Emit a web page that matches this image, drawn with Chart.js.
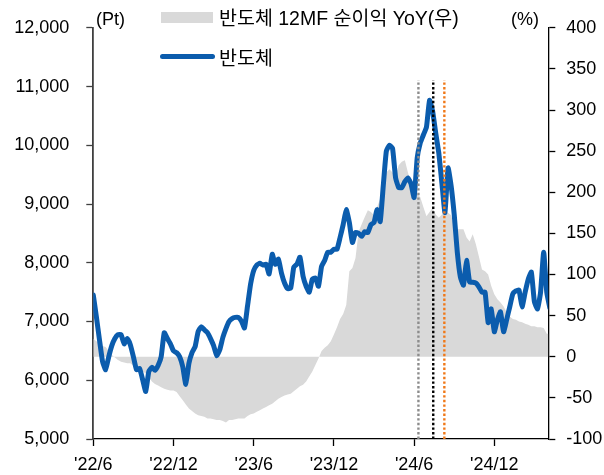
<!DOCTYPE html>
<html>
<head>
<meta charset="utf-8">
<script src="https://cdn.jsdelivr.net/npm/chart.js@4.4.1/dist/chart.umd.min.js"></script>
<style>
  body { margin: 0; background: #fff; }
  #wrap { position: relative; width: 604px; height: 475px; }
  #chart { position: absolute; left: 0; top: 0; }
  .lbl { position: absolute; font-family: "Liberation Sans", Arial, sans-serif; font-size: 18px; color: #000; line-height: 1; white-space: nowrap; }
  .leg { position: absolute; font-family: "Liberation Sans", "Noto Sans CJK KR", sans-serif; font-size: 19.5px; color: #000; line-height: 1; white-space: nowrap; }
  .leg .kr { font-family: "Noto Sans CJK KR", sans-serif; }
  .swatch { position: absolute; }
</style>
</head>
<body>
<div id="wrap">
  <canvas id="chart" width="604" height="475"></canvas>
  <div class="lbl" style="left:96px;top:10px;">(Pt)</div>
  <div class="lbl" style="left:511px;top:10px;">(%)</div>
  <div class="swatch" style="left:161px;top:12px;width:52px;height:11px;background:#d9d9d9;"></div>
  <div class="leg" id="leg1" style="left:219px;top:7px;"></div>
  <div class="swatch" style="left:160px;top:54px;width:55px;height:5px;border-radius:3px;background:#0b5cad;"></div>
  <div class="leg" id="leg2" style="left:219px;top:47px;"></div>
</div>
<script>
// 주간 데이터 ('22/6 첫 주 = 0)
const seriesNames = ["반도체 12MF 순이익 YoY(우)", "반도체"];
const tickWeeks = [0, 26, 52, 78, 104, 130];
const tickLabels = ["'22/6", "'22/12", "'23/6", "'23/12", "'24/6", "'24/12"];

// 반도체 지수 (Pt, 좌축)
const semiIndex = [
  7450, 7080, 6690, 6320, 6180, 6400, 6590, 6710, 6775, 6775,
  6620, 6710, 6605, 6400, 6180, 6200, 6010, 5810, 6150, 6220,
  6170, 6250, 6400, 6810, 6710, 6620, 6500, 6470, 6400, 6230,
  5930, 6290, 6470, 6570, 6830, 6910, 6860, 6810, 6710, 6590,
  6420, 6520, 6730, 6880, 7000, 7050, 7070, 7070, 7010, 6890,
  7265, 7640, 7870, 7960, 7990, 7960, 7975, 7810, 8145, 7975,
  8060, 7825, 7655, 7560, 7570, 7925, 7975, 8095, 7770, 7600,
  7500, 7720, 7740, 7600, 7940, 8040, 8180, 8180, 8230, 8230,
  8430, 8650, 8905, 8685, 8345, 8515, 8500, 8450, 8530, 8515,
  8650, 8685, 8905, 8700, 9310, 9900, 10000, 9950, 9445, 9280,
  9280, 9380, 9445, 9345, 9110, 9785, 10040, 10175, 10310, 10765,
  10580, 10210, 9870, 9360, 8855, 9615, 9310, 8820, 8180, 7755,
  7620, 8040, 7670, 7670, 7655, 7590, 7500, 7500, 6980, 7215,
  6825, 7030, 7165, 6825, 7030, 7250, 7470, 7520, 7535, 7250,
  7500, 7720, 7840, 7335, 7215, 7500, 8180, 7500, 7230
];

// 반도체 12MF 순이익 YoY (%, 우축)
const profitYoY = [
  22, 19, 16, 13, 12, 7, 2, -1, -4, -6,
  -7, -8, -8, -11, -13, -16, -18, -20, -25, -30,
  -33, -35, -37, -39, -40, -41, -41, -43, -48, -53,
  -58, -63, -66, -69, -71, -72, -73, -75, -75, -76,
  -77, -77, -78, -80, -77, -77, -76, -75, -75, -75,
  -72, -70, -69, -67, -65, -63, -61, -59, -57, -54,
  -51, -49, -47, -46, -45, -42, -39, -36, -34, -30,
  -24, -18, -10, -2, 7, 11, 14, 19, 27, 36,
  46, 52, 63, 104, 108, 120, 152, 161, 170, 178,
  176, 172, 182, 192, 206, 224, 228, 224, 220, 233,
  237, 239, 224, 210, 201, 198, 194, 182, 171, 176,
  181, 173, 169, 173, 176, 175, 172, 158, 155, 155,
  155, 145, 140, 149, 137, 122, 106, 104, 100, 86,
  76, 70, 66, 61, 54, 49, 46, 45, 43, 42,
  40, 39, 37, 37, 36, 36, 35, 28, 28
];

// 점선 표시 시점 (주 인덱스)
const markerWeeks = [105.4, 110.2, 113.8];
const markerColors = ["#8c8c8c", "#000000", "#f07818"];
const markerRange = [5000, 11110];

document.getElementById("leg1").innerHTML =
  '<span class="kr">반도체</span> 12MF <span class="kr">순이익</span> YoY(<span class="kr">우</span>)';
document.getElementById("leg2").innerHTML = '<span class="kr">' + seriesNames[1] + '</span>';

const toPoints = (arr) => arr.map((v, i) => ({ x: i, y: v }));

const markerSets = markerWeeks.map((w, k) => ({
  label: "marker" + k,
  data: markerRange.map((v) => ({ x: w, y: v })),
  yAxisID: "y",
  borderColor: markerColors[k],
  borderWidth: 2.4,
  borderDash: [2.4, 2.2],
  pointRadius: 0,
  fill: false,
  order: 0,
}));

const ctx = document.getElementById("chart").getContext("2d");
new Chart(ctx, {
  type: "line",
  data: {
    datasets: [
      ...markerSets,
      {
        label: seriesNames[1],
        data: toPoints(semiIndex),
        yAxisID: "y",
        borderColor: "#0b5cad",
        borderWidth: 5,
        borderJoinStyle: "round",
        borderCapStyle: "round",
        tension: 0.15,
        pointRadius: 0,
        fill: false,
        order: 1,
      },
      {
        label: seriesNames[0],
        data: toPoints(profitYoY),
        yAxisID: "y2",
        backgroundColor: "#d9d9d9",
        borderWidth: 0,
        pointRadius: 0,
        fill: "origin",
        order: 2,
      },
    ],
  },
  options: {
    responsive: false,
    animation: false,
    layout: { padding: { top: 22, left: 0, right: 0, bottom: 0 } },
    plugins: { legend: { display: false }, tooltip: { enabled: false } },
    scales: {
      x: {
        type: "linear",
        min: 0,
        max: 147.5,
        afterBuildTicks: (s) => { s.ticks = tickWeeks.map((v) => ({ value: v })); },
        afterFit: (s) => { s.height = 36; },
        ticks: {
          autoSkip: false,
          maxRotation: 0,
          padding: 8,
          color: "#000",
          font: { family: "Liberation Sans", size: 18 },
          callback: (v) => tickLabels[tickWeeks.indexOf(v)],
        },
        grid: { display: true, drawOnChartArea: false, tickLength: 7, tickColor: "#000", tickWidth: 1.3 },
        border: { display: true, color: "#000", width: 1.3 },
      },
      y: {
        position: "left",
        min: 5000,
        max: 12000,
        afterFit: (s) => { s.width = 93.3; },
        ticks: {
          stepSize: 1000,
          padding: 17,
          color: "#000",
          font: { family: "Liberation Sans", size: 18 },
          callback: (v) => v.toLocaleString("en-US"),
        },
        grid: { display: true, drawOnChartArea: false, tickLength: 7, tickColor: "#404040", tickWidth: 1.3 },
        border: { display: true, color: "#404040", width: 1.8 },
      },
      y2: {
        position: "right",
        min: -100,
        max: 400,
        afterFit: (s) => { s.width = 55.7; },
        ticks: {
          stepSize: 50,
          padding: 11,
          color: "#000",
          font: { family: "Liberation Sans", size: 18 },
        },
        grid: { display: true, drawOnChartArea: false, tickLength: 7, tickColor: "#000", tickWidth: 1.3 },
        border: { display: true, color: "#000", width: 1.3 },
      },
    },
  },
});
</script>
</body>
</html>
